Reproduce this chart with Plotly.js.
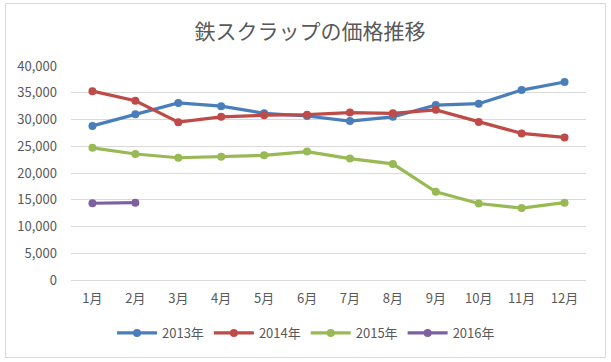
<!DOCTYPE html>
<html><head><meta charset="utf-8">
<script src="https://cdn.plot.ly/plotly-3.0.1.min.js"></script>
<style>
html,body{margin:0;padding:0;background:#fff;}
#wrap{position:relative;width:611px;height:362px;}
#chart{width:611px;height:362px;}
#frame{position:absolute;left:5px;top:3px;width:599px;height:353px;border:1px solid #d9d9d9;pointer-events:none;}
</style></head>
<body>
<div id="wrap"><div id="chart"></div><div id="frame"></div></div>
<script>
const months = ["1月","2月","3月","4月","5月","6月","7月","8月","9月","10月","11月","12月"];
const seriesNames = ["2013年","2014年","2015年","2016年"];
const y2013 = [28800,31000,33100,32500,31150,30650,29700,30500,32700,32950,35500,37000];
const y2014 = [35300,33500,29500,30500,30800,30900,31300,31150,31800,29550,27400,26650];
const y2015 = [24700,23550,22850,23050,23300,24000,22700,21700,16500,14300,13450,14450];
const y2016 = [14350,14450];
const colors = ["#4a7ebb","#be4b48","#98b954","#7d60a0"];
const data = [y2013,y2014,y2015,y2016].map((ys,i)=>({
  type:"scatter", mode:"lines+markers", name:seriesNames[i],
  x: months.slice(0, ys.length), y: ys,
  line:{color:colors[i], width:3.2},
  marker:{color:colors[i], size:8}
}));
const font = "'Noto Sans CJK JP', 'Noto Sans', sans-serif";
const layout = {
  width:611, height:362,
  margin:{l:71, r:25, t:66, b:82},
  paper_bgcolor:"#fff", plot_bgcolor:"#fff",
  font:{family:font, color:"#595959", size:13},
  title:{text:"鉄スクラップの価格推移", font:{family:font, size:21, color:"#595959"}, x:310/611, xanchor:"center", y:1-32/362, yanchor:"middle"},
  xaxis:{type:"category", categoryorder:"array", categoryarray:months, range:[-0.5,11.5],
    showgrid:false, zeroline:false, showline:false, ticks:"", tickfont:{size:13, color:"#595959"}, ticklabelstandoff:9},
  yaxis:{range:[0,40000], dtick:5000, tickformat:",d", gridcolor:"#d9d9d9", gridwidth:1,
    zeroline:true, zerolinecolor:"#d9d9d9", zerolinewidth:1, showline:false, ticks:"", ticklabelstandoff:13,
    tickfont:{size:13, color:"#595959"}},
  showlegend:true,
  legend:{orientation:"h", x:(306-71)/515, xanchor:"center", y:(280-333)/214, yanchor:"middle",
    font:{size:13, color:"#595959"}, itemwidth:40, tracegroupgap:0},
  hovermode:false
};
Plotly.newPlot("chart", data, layout, {staticPlot:true});
</script>
</body></html>
